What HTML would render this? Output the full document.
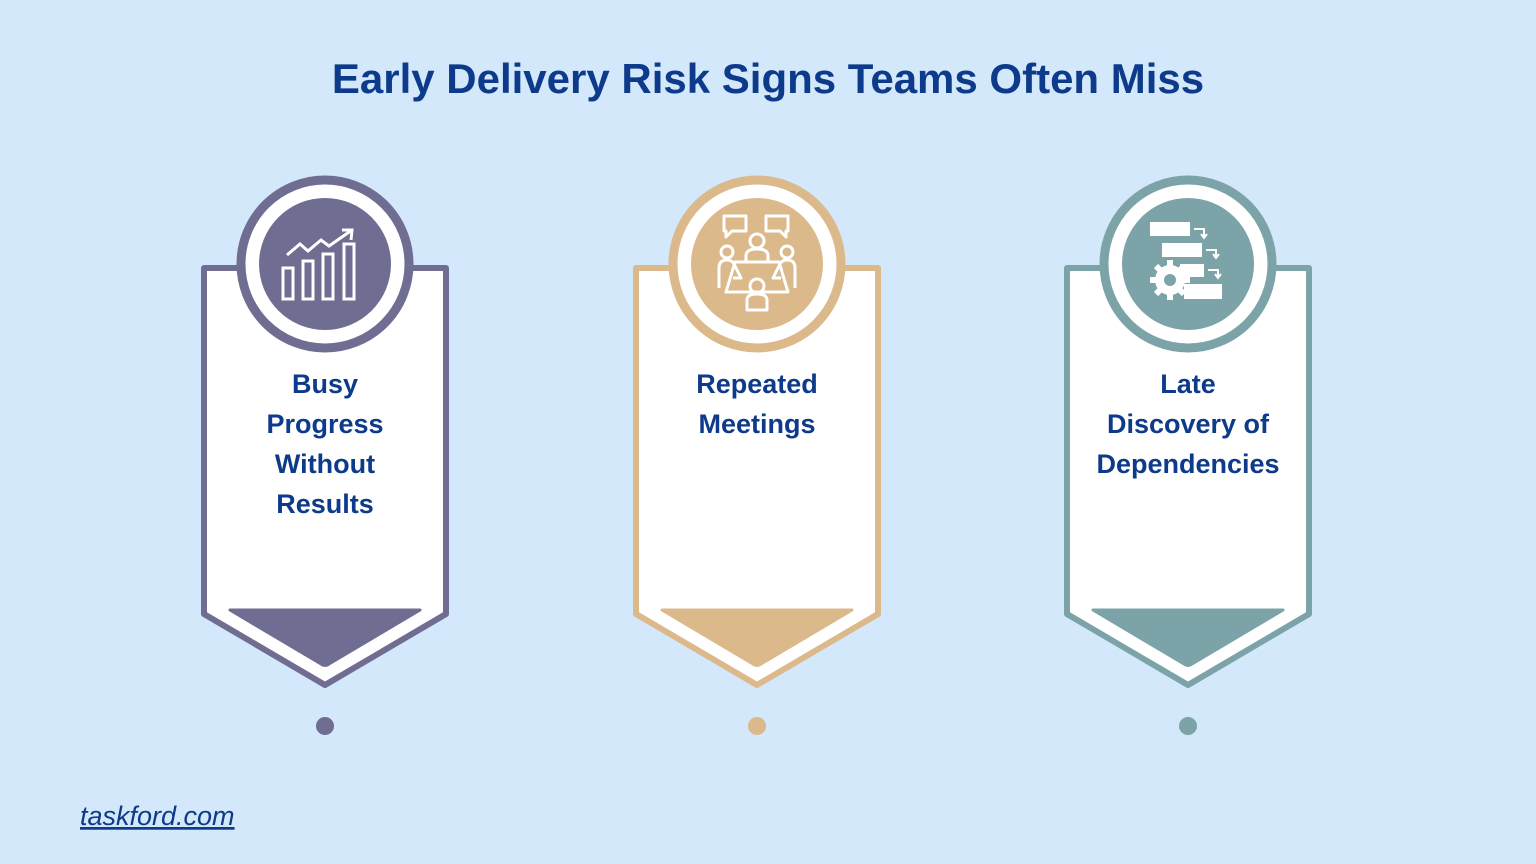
<!DOCTYPE html>
<html><head><meta charset="utf-8"><style>
html,body{margin:0;padding:0;background:#d3e8fb;}
svg{display:block}
text{font-family:"Liberation Sans",sans-serif;font-weight:bold;fill:#0d3a8a}
</style></head><body>
<svg width="1536" height="864" viewBox="0 0 1536 864" xmlns="http://www.w3.org/2000/svg">
<rect width="1536" height="864" fill="#d3e8fb"/>
<text x="768" y="93" text-anchor="middle" font-size="42">Early Delivery Risk Signs Teams Often Miss</text>

<defs>
<g id="card">
  <path d="M-121,268 L121,268 L121,614 L0,685 L-121,614 Z" fill="#fff" stroke="currentColor" stroke-width="6" stroke-linejoin="round"/>
  <path d="M-95,610 L95,610 L4,664 Q0,667 -4,664 Z" fill="currentColor" stroke="currentColor" stroke-width="3" stroke-linejoin="round"/>
  <circle cx="0" cy="264" r="84" fill="#fff" stroke="currentColor" stroke-width="9"/>
  <circle cx="0" cy="264" r="66" fill="currentColor"/>
  <circle cx="0" cy="726" r="9" fill="currentColor"/>
</g>
</defs>

<g transform="translate(325,0)" color="#6f6d91">
  <use href="#card"/>
  <g fill="none" stroke="#fff" stroke-width="3">
    <rect x="-42" y="268" width="10" height="31"/>
    <rect x="-22" y="261" width="10" height="38"/>
    <rect x="-2" y="254" width="10" height="45"/>
    <rect x="19" y="244" width="10" height="55"/>
    <polyline points="-38,255 -25,244 -17,251 -4,240 4,246 27,230"/>
    <polyline points="17,230 27,230 26,240"/>
  </g>
  <text x="0" y="393" text-anchor="middle" font-size="27">Busy</text>
  <text x="0" y="433" text-anchor="middle" font-size="27">Progress</text>
  <text x="0" y="473" text-anchor="middle" font-size="27">Without</text>
  <text x="0" y="513" text-anchor="middle" font-size="27">Results</text>
</g>

<g transform="translate(757,0)" color="#dbb98b">
  <use href="#card"/>
  <g fill="none" stroke="#fff" stroke-width="3" stroke-linejoin="round">
    <path d="M-33,216 h22 v15 h-14 l-6,6 v-6 h-2 z"/>
    <path d="M9,216 h22 v15 h-2 v6 l-6,-6 h-14 z"/>
    <circle cx="0" cy="241" r="7"/>
    <path d="M-11,262 v-6 q0,-7 11,-7 q11,0 11,7 v6"/>
    <circle cx="-30" cy="252" r="6"/>
    <circle cx="30" cy="252" r="6"/>
    <path d="M-38,288 v-20 q0,-8 8,-8 q6,0 8,6 l6,12 h-8"/>
    <path d="M38,288 v-20 q0,-8 -8,-8 q-6,0 -8,6 l-6,12 h8"/>
    <path d="M-22,262 h44 l9,30 h-62 z"/>
    <circle cx="0" cy="286" r="7"/>
    <path d="M-10,310 v-10 q0,-6 10,-6 q10,0 10,6 v10 z"/>
  </g>
  <text x="0" y="393" text-anchor="middle" font-size="27">Repeated</text>
  <text x="0" y="433" text-anchor="middle" font-size="27">Meetings</text>
</g>

<g transform="translate(1188,0)" color="#7ca3a8">
  <use href="#card"/>
  <g fill="#fff">
    <rect x="-38" y="222" width="40" height="14"/>
    <rect x="-26" y="243" width="40" height="14"/>
    <rect x="-8" y="264" width="24" height="13"/>
    <rect x="-4" y="284" width="38" height="15"/>
    <circle cx="-18" cy="280" r="15"/>
  </g>
  <g stroke="#fff" stroke-width="6">
    <line x1="-18" y1="260" x2="-18" y2="300"/>
    <line x1="-38" y1="280" x2="2" y2="280"/>
    <line x1="-32" y1="266" x2="-4" y2="294"/>
    <line x1="-4" y1="266" x2="-32" y2="294"/>
  </g>
  <circle cx="-18" cy="280" r="6" fill="#7ca3a8"/>
  <g fill="none" stroke="#fff" stroke-width="2">
    <polyline points="6,229 16,229 16,237"/><polyline points="13,234 16,238 19,234"/>
    <polyline points="18,250 28,250 28,257"/><polyline points="25,254 28,258 31,254"/>
    <polyline points="20,270 30,270 30,277"/><polyline points="27,274 30,278 33,274"/>
  </g>
  <text x="0" y="393" text-anchor="middle" font-size="27">Late</text>
  <text x="0" y="433" text-anchor="middle" font-size="27">Discovery of</text>
  <text x="0" y="473" text-anchor="middle" font-size="27">Dependencies</text>
</g>

<text x="80" y="825" font-size="27" font-style="italic" style="font-weight:normal" text-decoration="underline">taskford.com</text>
</svg>
</body></html>
